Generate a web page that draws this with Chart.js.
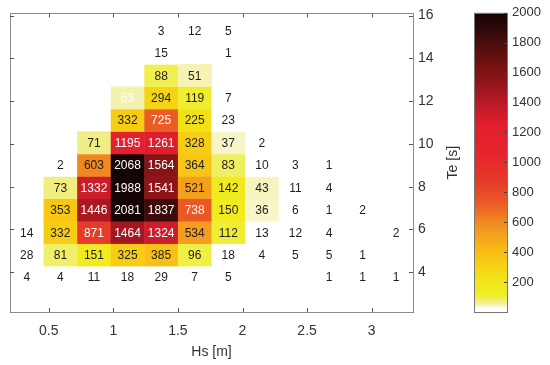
<!DOCTYPE html>
<html>
<head>
<meta charset="utf-8">
<script src="https://cdn.jsdelivr.net/npm/chart.js@4.4.1/dist/chart.umd.min.js"></script>
<style>
  html, body { margin: 0; padding: 0; background: #ffffff; }
  #wrap { position: relative; width: 550px; height: 365px; overflow: hidden; }
  #main { position: absolute; left: 0; top: 0; }
  #cbar { position: absolute; left: 460px; top: 0; }
</style>
</head>
<body>
<div id="wrap">
  <canvas id="main" width="460" height="365"></canvas>
  <canvas id="cbar" width="90" height="365"></canvas>
</div>
<script>
// ---------------- data ----------------
const hsCenters = [0.33, 0.59, 0.85, 1.11, 1.37, 1.63, 1.89, 2.15, 2.41, 2.67, 2.93, 3.19];
const teCenters = [3.77, 4.82, 5.87, 6.92, 7.97, 9.01, 10.06, 11.11, 12.16, 13.21, 14.25, 15.30];
const hsBinWidth = 0.26;
const teBinHeight = 1.048;
// occurrences, one array per Te row (bottom to top), one entry per Hs column
const row_Te3_8  = [4, 4, 11, 18, 29, 7, 5, null, null, 1, 1, 1];
const row_Te4_8  = [28, 81, 151, 325, 385, 96, 18, 4, 5, 5, 1, null];
const row_Te5_9  = [14, 332, 871, 1464, 1324, 534, 112, 13, 12, 4, null, 2];
const row_Te6_9  = [null, 353, 1446, 2081, 1837, 738, 150, 36, 6, 1, 2, null];
const row_Te8_0  = [null, 73, 1332, 1988, 1541, 521, 142, 43, 11, 4, null, null];
const row_Te9_0  = [null, 2, 603, 2068, 1564, 364, 83, 10, 3, 1, null, null];
const row_Te10_1 = [null, null, 71, 1195, 1261, 328, 37, 2, null, null, null, null];
const row_Te11_1 = [null, null, null, 332, 725, 225, 23, null, null, null, null, null];
const row_Te12_2 = [null, null, null, 53, 294, 119, 7, null, null, null, null, null];
const row_Te13_2 = [null, null, null, null, 88, 51, null, null, null, null, null, null];
const row_Te14_3 = [null, null, null, null, 15, null, 1, null, null, null, null, null];
const row_Te15_3 = [null, null, null, null, 3, 12, 5, null, null, null, null, null];
const countRows = [row_Te3_8, row_Te4_8, row_Te5_9, row_Te6_9, row_Te8_0, row_Te9_0,
                   row_Te10_1, row_Te11_1, row_Te12_2, row_Te13_2, row_Te14_3, row_Te15_3];

const xTickValues = [0.5, 1, 1.5, 2, 2.5, 3];
const yTickValues = [4, 6, 8, 10, 12, 14, 16];
const cbarTickValues = [200, 400, 600, 800, 1000, 1200, 1400, 1600, 1800, 2000];
const cbarMin = 0, cbarMax = 2000;

// colormap stops (value -> colour)
const cmapStops = [
  [0, '#ffffff'], [31, '#ffffff'], [34, '#f8f7cc'], [55, '#f4f1ae'], [72, '#efee82'],
  [90, '#f0ef4c'], [130, '#f0ec22'], [250, '#f4de14'], [340, '#f7ca14'], [420, '#f8b816'],
  [530, '#f49e1e'], [620, '#ef8222'], [730, '#ea5a26'], [880, '#e6392a'], [1050, '#e6262e'],
  [1250, '#e21e2e'], [1400, '#b81a26'], [1550, '#8c1418'], [1700, '#671010'],
  [1850, '#3a0a0a'], [2000, '#140404']
];

// --------------- helpers ---------------
const FONT = '"Liberation Sans", Arial, Helvetica, sans-serif';
function hex2rgb(h){ return [parseInt(h.substr(1,2),16), parseInt(h.substr(3,2),16), parseInt(h.substr(5,2),16)]; }
function cmap(v){
  if (v <= cmapStops[0][0]) return cmapStops[0][1];
  for (let i = 1; i < cmapStops.length; i++) {
    if (v <= cmapStops[i][0]) {
      const [v0, c0] = cmapStops[i-1], [v1, c1] = cmapStops[i];
      const t = (v - v0) / (v1 - v0);
      const a = hex2rgb(c0), b = hex2rgb(c1);
      const m = a.map((x, k) => Math.round(x + (b[k] - x) * t));
      return `rgb(${m[0]},${m[1]},${m[2]})`;
    }
  }
  return cmapStops[cmapStops.length-1][1];
}

const cells = [];
countRows.forEach((row, r) => row.forEach((v, c) => {
  if (v !== null) cells.push({x: hsCenters[c], y: teCenters[r], v});
}));

// --------------- main heatmap ---------------
const heatPlugin = {
  id: 'heat',
  beforeDatasetsDraw(chart){
    const {ctx, scales: {x, y}} = chart;
    ctx.save();
    cells.forEach(p => {
      const x0 = x.getPixelForValue(p.x - hsBinWidth/2), x1 = x.getPixelForValue(p.x + hsBinWidth/2);
      const y0 = y.getPixelForValue(p.y + teBinHeight/2), y1 = y.getPixelForValue(p.y - teBinHeight/2);
      ctx.fillStyle = cmap(p.v);
      ctx.fillRect(x0, y0, x1 - x0 + 0.5, y1 - y0 + 0.5);
    });
    ctx.restore();
  },
  afterDatasetsDraw(chart){
    const {ctx, chartArea: a, scales: {x, y}} = chart;
    ctx.save();
    // cell labels
    ctx.font = '12px ' + FONT;
    ctx.textAlign = 'center';
    ctx.textBaseline = 'middle';
    cells.forEach(p => {
      ctx.fillStyle = (p.v > 650 || p.v === 53) ? '#ffffff' : '#1e1e1e';
      ctx.fillText(String(p.v), x.getPixelForValue(p.x), y.getPixelForValue(p.y) + 1);
    });
    // box
    ctx.strokeStyle = '#8a8a8a';
    ctx.lineWidth = 1;
    ctx.strokeRect(Math.round(a.left) + 0.5, Math.round(a.top) + 0.5, Math.round(a.right - a.left), Math.round(a.bottom - a.top));
    // inward ticks
    ctx.strokeStyle = '#555555';
    ctx.beginPath();
    xTickValues.forEach(v => {
      const px = Math.round(x.getPixelForValue(v)) + 0.5;
      ctx.moveTo(px, a.bottom); ctx.lineTo(px, a.bottom - 4);
      ctx.moveTo(px, a.top); ctx.lineTo(px, a.top + 4);
    });
    yTickValues.forEach(v => {
      const py = Math.round(y.getPixelForValue(v)) + 0.5;
      ctx.moveTo(a.right, py); ctx.lineTo(a.right - 4, py);
      ctx.moveTo(a.left, py); ctx.lineTo(a.left + 4, py);
    });
    ctx.stroke();
    // axis titles
    ctx.fillStyle = '#333333';
    ctx.font = '14px ' + FONT;
    ctx.textAlign = 'center';
    ctx.textBaseline = 'middle';
    ctx.fillText('Hs [m]', (a.left + a.right) / 2, 352);
    ctx.translate(453, (a.top + a.bottom) / 2);
    ctx.rotate(-Math.PI / 2);
    ctx.fillText('Te [s]', 0, 0);
    ctx.restore();
  }
};

new Chart(document.getElementById('main'), {
  type: 'scatter',
  data: { datasets: [{ data: cells.map(p => ({x: p.x, y: p.y})), pointRadius: 0, pointHoverRadius: 0 }] },
  options: {
    responsive: false, animation: false, events: [],
    layout: { padding: { left: 10, top: 12, right: 0, bottom: 0 } },
    plugins: { legend: { display: false }, tooltip: { enabled: false } },
    scales: {
      x: {
        type: 'linear', min: 0.2, max: 3.32,
        grid: { display: false, drawTicks: false }, border: { display: false },
        afterBuildTicks: s => { s.ticks = xTickValues.map(v => ({value: v})); },
        afterFit: s => { s.height = 53; },
        ticks: { font: { family: FONT, size: 14 }, color: '#333333', padding: 11, maxRotation: 0,
                 callback: v => String(v) }
      },
      y: {
        type: 'linear', position: 'right', min: 2.14, max: 16.1,
        grid: { display: false, drawTicks: false }, border: { display: false },
        afterBuildTicks: s => { s.ticks = yTickValues.map(v => ({value: v})); },
        afterFit: s => { s.width = 47; },
        ticks: { font: { family: FONT, size: 14 }, color: '#333333', padding: 5,
                 callback: v => String(v) }
      }
    }
  },
  plugins: [heatPlugin]
});

// --------------- colour bar ---------------
const cbarPlugin = {
  id: 'cbarBox',
  afterDatasetsDraw(chart){
    const {ctx, chartArea: a, scales: {y}} = chart;
    ctx.save();
    ctx.strokeStyle = '#777777';
    ctx.lineWidth = 1;
    ctx.strokeRect(Math.round(a.left) + 0.5, Math.round(a.top) + 0.5, Math.round(a.right - a.left), Math.round(a.bottom - a.top));
    ctx.strokeStyle = '#444444';
    ctx.beginPath();
    cbarTickValues.forEach(v => {
      const py = Math.round(y.getPixelForValue(v)) + 0.5;
      ctx.moveTo(a.right, py); ctx.lineTo(a.right - 3, py);
    });
    ctx.stroke();
    ctx.restore();
  }
};

new Chart(document.getElementById('cbar'), {
  type: 'bar',
  data: {
    labels: [''],
    datasets: [{
      data: [[cbarMin, cbarMax]],
      barPercentage: 1, categoryPercentage: 1, borderWidth: 0,
      backgroundColor: (c) => {
        const ch = c.chart;
        if (!ch.chartArea) return '#ffffff';
        const ys = ch.scales.y;
        const g = ch.ctx.createLinearGradient(0, ys.getPixelForValue(cbarMin), 0, ys.getPixelForValue(cbarMax));
        cmapStops.forEach(s => g.addColorStop((s[0] - cbarMin) / (cbarMax - cbarMin), s[1]));
        return g;
      }
    }]
  },
  options: {
    responsive: false, animation: false, events: [],
    layout: { padding: { left: 14, top: 12, right: 0, bottom: 53 } },
    plugins: { legend: { display: false }, tooltip: { enabled: false } },
    scales: {
      x: { display: false },
      y: {
        position: 'right', min: cbarMin, max: cbarMax,
        grid: { display: false, drawTicks: false }, border: { display: false },
        afterBuildTicks: s => { s.ticks = cbarTickValues.map(v => ({value: v})); },
        afterFit: s => { s.width = 43; },
        ticks: { font: { family: FONT, size: 13 }, color: '#333333', padding: 5,
                 callback: v => String(v) }
      }
    }
  },
  plugins: [cbarPlugin]
});
</script>
</body>
</html>
